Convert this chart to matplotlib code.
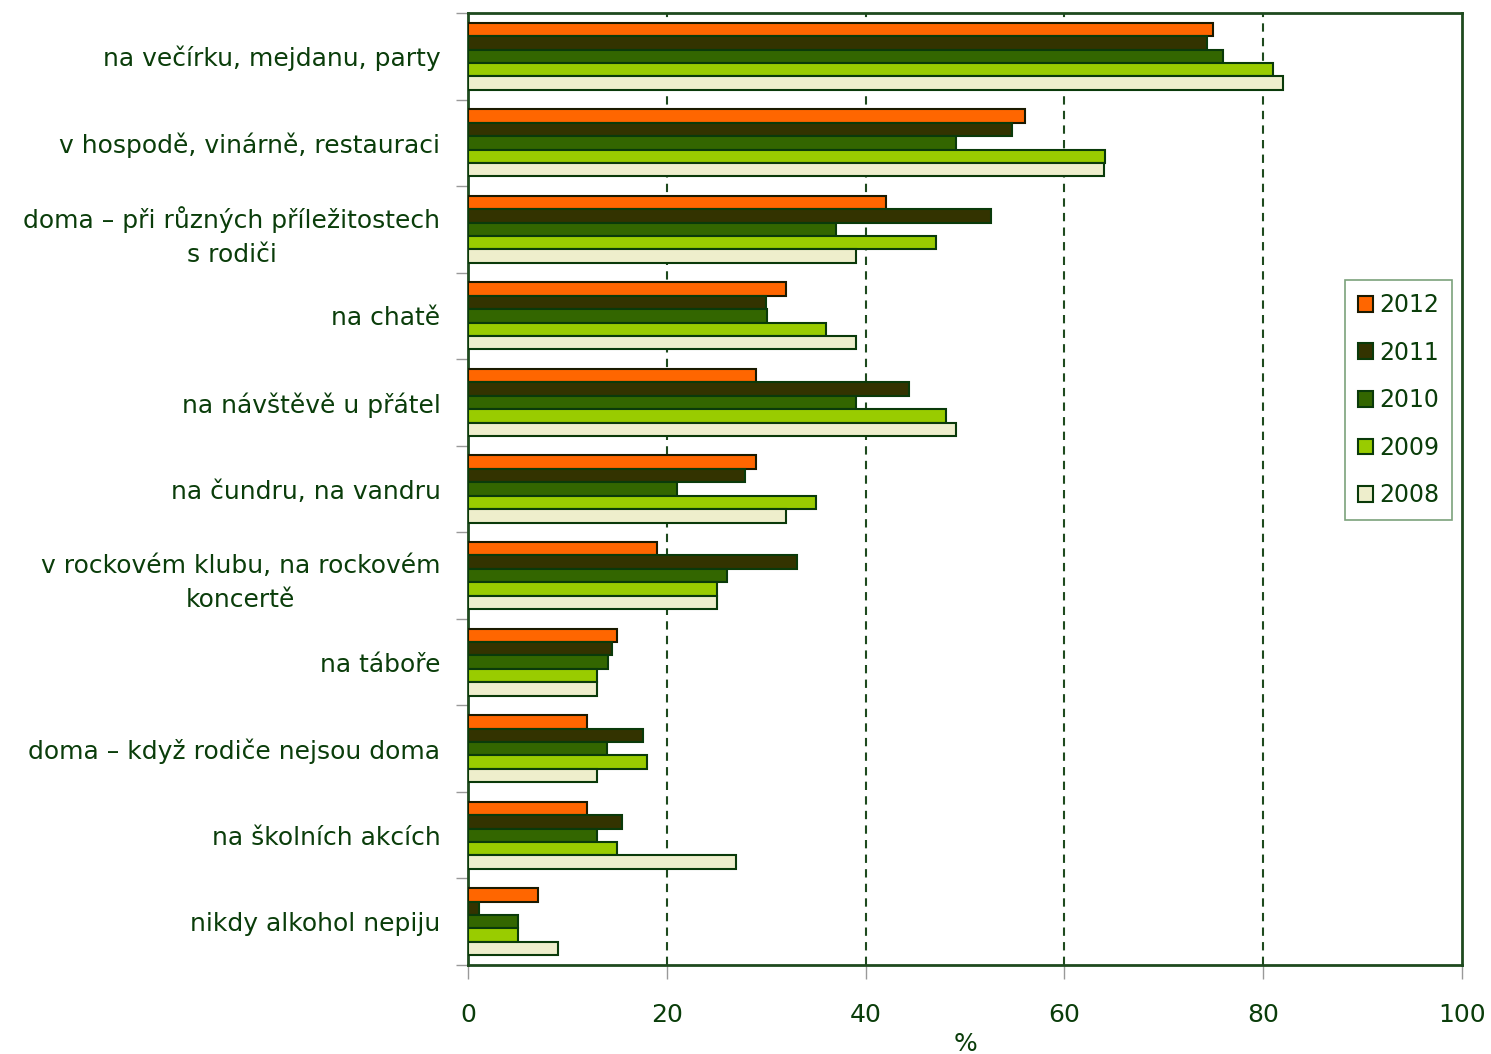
import numpy as np
import matplotlib.pyplot as plt

categories = [
    'na večírku, mejdanu, party',
    'v hospodě, vinárně, restauraci',
    'doma – při různých příležitostech\ns rodiči',
    'na chatě',
    'na návštěvě u přátel',
    'na čundru, na vandru',
    'v rockovém klubu, na rockovém\nkoncertě',
    'na táboře',
    'doma – když rodiče nejsou doma',
    'na školních akcích',
    'nikdy alkohol nepiju',
]

years = ['2012', '2011', '2010', '2009', '2008']
v2012 = [75, 56, 42, 32, 29, 29, 19, 15, 12, 12, 7]
v2011 = [74.3, 54.7, 52.6, 30, 44.4, 27.9, 33.1, 14.5, 17.6, 15.5, 1.1]
v2010 = [76, 49.1, 37, 30.1, 39, 21, 26, 14.1, 14, 13, 5]
v2009 = [81, 64.1, 47.1, 36, 48.1, 35, 25, 13, 18, 15, 5]
v2008 = [82, 64, 39, 39, 49.1, 32, 25, 13, 13, 27, 9]

series = [v2012, v2011, v2010, v2009, v2008]
colors = ['#ff6600', '#333300', '#336600', '#99cc00', '#eeeecc']
edges = ['#1a1a00', '#0a3a0a', '#0a3a0a', '#0a3a0a', '#0a3a0a']

text_col = '#0a3d0a'
dark = '#1e4a1e'

fig = plt.figure(figsize=(14.91, 10.54), dpi=100)
ax = fig.add_axes([0.314, 0.0844, 0.6665, 0.9033])

y = np.arange(len(categories))
h = 0.155
for k, (vals, c, e, yr) in enumerate(zip(series, colors, edges, years)):
    ax.barh(y + (k - 2) * h, vals, height=h, color=c, edgecolor=e,
            linewidth=1.5, label=yr, zorder=3)

ax.set_xlim(0, 100)
ax.set_ylim(len(categories) - 0.5, -0.5)

ax.set_xticks([0, 20, 40, 60, 80, 100])
ax.set_yticks(y)
ax.set_yticklabels(categories, fontsize=18, color=text_col,
                   multialignment='center', linespacing=1.5)
ax.set_yticks(np.arange(-0.5, len(categories)), minor=True)
ax.tick_params(axis='y', which='major', length=0, pad=20)
ax.tick_params(axis='y', which='minor', length=9, color='#999999', width=1)
ax.tick_params(axis='x', which='major', length=10, color='#999999', width=1,
               labelsize=18, labelcolor=text_col, pad=17)

for xv in [20, 40, 60, 80]:
    ax.axvline(xv, color=dark, linestyle=(0, (4, 3)), linewidth=1.5, zorder=1)

for s in ax.spines.values():
    s.set_color(dark)
    s.set_linewidth(2)

ax.set_xlabel('%', fontsize=18, color=text_col, labelpad=4)

leg = ax.legend(loc='upper left', bbox_to_anchor=(0.882, 0.7195), fontsize=17,
                handlelength=0.65, handleheight=0.65, handletextpad=0.25,
                labelspacing=1.0, borderpad=0.55, borderaxespad=0,
                fancybox=False, frameon=True, labelcolor=text_col)
leg.get_frame().set_edgecolor('#5a8a5a')
leg.get_frame().set_linewidth(1.2)

fig.savefig('out.png', dpi=100)
